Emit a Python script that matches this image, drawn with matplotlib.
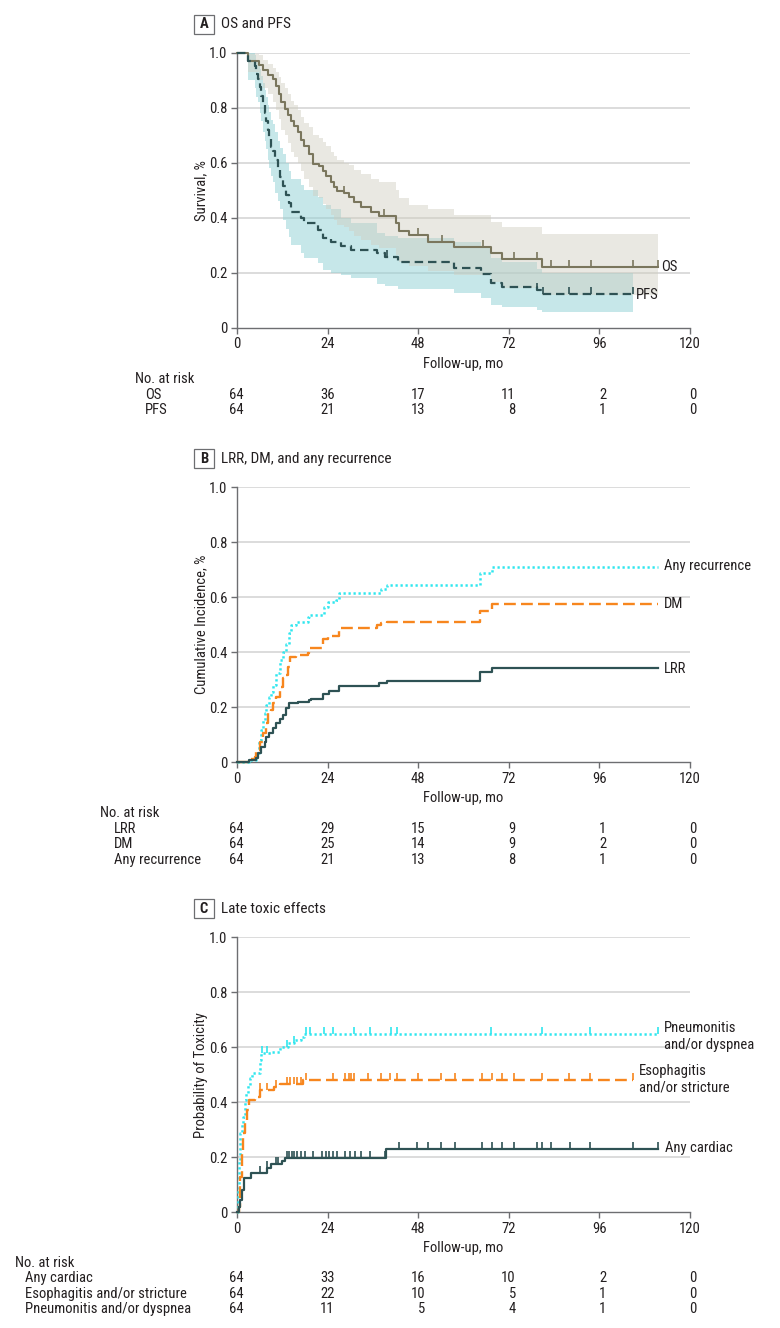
import matplotlib
matplotlib.use("Agg")
import matplotlib.pyplot as plt
import numpy as np
from matplotlib import font_manager
from matplotlib.transforms import blended_transform_factory, ScaledTranslation
from matplotlib.patches import Rectangle

_names = {f.name for f in font_manager.fontManager.ttflist}
_cond = [f for f in font_manager.fontManager.ttflist
         if f.name == 'DejaVu Sans' and str(f.stretch) in ('condensed', '75', 'semi-condensed')]
FONT_STRETCH = 'normal'
FONT = None
for cand in ['Roboto Condensed', 'Liberation Sans Narrow', 'Open Sans Condensed', 'Noto Sans Condensed']:
    if cand in _names:
        FONT = cand
        break
if FONT is None:
    if _cond:
        FONT = 'DejaVu Sans'
        FONT_STRETCH = 'condensed'
    else:
        FONT = 'Roboto'
plt.rcParams['font.family'] = [FONT, 'DejaVu Sans']
plt.rcParams['font.stretch'] = FONT_STRETCH

# ---------------- data ----------------
XTICKS = [0, 24, 48, 72, 96, 120]
YTICKS = [0, 0.2, 0.4, 0.6, 0.8, 1.0]
YTICKLABELS = ['0', '0.2', '0.4', '0.6', '0.8', '1.0']

# Panel A: overall survival
OS_t = [0, 2.9, 5.8, 6.9, 8.2, 9.5, 10.4, 11.1, 11.7, 12.6, 13.5, 14.2, 15.2, 16.1, 17.0, 17.8,
        19.2, 20.0, 21.8, 22.7, 23.6, 24.9, 25.8, 26.6, 28.4, 29.7, 31.0, 32.8, 35.4, 37.5,
        42.2, 42.8, 45.6, 50.6, 57.4, 67.4, 70.1, 80.8]
OS_v = [1.0, 0.971, 0.955, 0.937, 0.92, 0.903, 0.88, 0.85, 0.82, 0.797, 0.773, 0.75, 0.733, 0.713,
        0.683, 0.66, 0.63, 0.597, 0.587, 0.57, 0.55, 0.53, 0.513, 0.498, 0.488, 0.476, 0.458,
        0.44, 0.42, 0.406, 0.381, 0.352, 0.337, 0.313, 0.295, 0.272, 0.248, 0.221]
OS_lo = [1.0, 0.93, 0.90, 0.87, 0.85, 0.82, 0.79, 0.76, 0.72, 0.70, 0.67, 0.64, 0.62, 0.60, 0.57,
         0.54, 0.51, 0.48, 0.47, 0.45, 0.43, 0.41, 0.39, 0.375, 0.365, 0.35, 0.335, 0.32, 0.30,
         0.29, 0.265, 0.24, 0.225, 0.205, 0.19, 0.165, 0.145, 0.12]
OS_hi = [1.0, 0.995, 0.99, 0.975, 0.96, 0.945, 0.93, 0.91, 0.89, 0.87, 0.85, 0.825, 0.81, 0.79,
         0.765, 0.745, 0.73, 0.70, 0.69, 0.675, 0.66, 0.64, 0.625, 0.61, 0.60, 0.59, 0.575,
         0.56, 0.54, 0.53, 0.50, 0.47, 0.446, 0.43, 0.41, 0.386, 0.367, 0.341]
OS_end = 111.6
OS_cens = [28.4, 39.0, 48.0, 54.2, 65.1, 73.3, 79.6, 83.2, 87.9, 93.7, 105.0, 111.6]

# Panel A: progression-free survival
PFS_t = [0, 2.9, 4.7, 5.1, 5.5, 6.0, 6.4, 6.9, 7.3, 7.7, 8.2, 8.6, 9.1, 9.5, 10.1, 10.8, 11.3,
         12.1, 13.0, 13.7, 14.2, 17.0, 17.8, 21.4, 22.9, 24.9, 27.5, 30.2, 37.2, 39.2, 42.7,
         57.4, 64.6, 67.4, 70.1, 79.6, 80.8]
PFS_v = [1.0, 0.969, 0.953, 0.922, 0.906, 0.875, 0.844, 0.813, 0.781, 0.75, 0.719, 0.688, 0.656,
         0.641, 0.609, 0.578, 0.547, 0.516, 0.484, 0.453, 0.422, 0.398, 0.379, 0.355, 0.325,
         0.313, 0.297, 0.281, 0.27, 0.258, 0.24, 0.217, 0.195, 0.163, 0.147, 0.137, 0.124]
PFS_lo = [1.0, 0.90, 0.87, 0.84, 0.82, 0.78, 0.75, 0.71, 0.68, 0.65, 0.61, 0.58, 0.55, 0.53,
          0.49, 0.46, 0.43, 0.39, 0.36, 0.33, 0.30, 0.27, 0.255, 0.235, 0.21, 0.20, 0.19, 0.18,
          0.16, 0.15, 0.139, 0.127, 0.108, 0.084, 0.075, 0.065, 0.057]
PFS_hi = [1.0, 1.0, 0.99, 0.975, 0.965, 0.94, 0.915, 0.89, 0.865, 0.84, 0.81, 0.785, 0.755,
          0.74, 0.71, 0.68, 0.655, 0.63, 0.60, 0.57, 0.54, 0.52, 0.50, 0.475, 0.445, 0.43,
          0.40, 0.38, 0.345, 0.335, 0.325, 0.31, 0.29, 0.255, 0.24, 0.215, 0.20]
PFS_end = 105.0
PFS_cens = [39.7, 79.6, 81.0, 87.9, 93.7, 105.0]

OS_risk = [64, 36, 17, 11, 2, 0]
PFS_risk = [64, 21, 13, 8, 1, 0]

# Panel B: cumulative incidence
LRR_t = [0, 3.3, 5.1, 5.5, 6.4, 7.3, 7.7, 8.6, 9.5, 10.4, 11.3, 12.1, 13.0, 13.7, 16.1, 19.2,
         19.6, 22.7, 24.3, 27.1, 37.6, 39.8, 64.4, 67.5]
LRR_v = [0, 0.008, 0.016, 0.033, 0.057, 0.075, 0.093, 0.105, 0.123, 0.144, 0.156, 0.172, 0.196,
         0.214, 0.218, 0.226, 0.232, 0.25, 0.26, 0.278, 0.287, 0.297, 0.327, 0.344]
DM_t = [0, 3.3, 4.7, 5.1, 6.0, 6.9, 7.7, 8.2, 9.1, 9.5, 10.4, 11.3, 12.1, 13.0, 13.5, 14.1,
        15.6, 18.7, 19.2, 22.9, 24.0, 27.1, 37.2, 38.1, 39.8, 64.4, 67.5]
DM_v = [0, 0.011, 0.02, 0.045, 0.075, 0.105, 0.142, 0.18, 0.19, 0.217, 0.238, 0.275, 0.305,
        0.317, 0.347, 0.384, 0.39, 0.396, 0.414, 0.45, 0.46, 0.487, 0.499, 0.505, 0.511, 0.552,
        0.576]
ANY_t = [0, 3.3, 5.1, 5.8, 6.4, 6.9, 7.3, 7.7, 8.4, 9.1, 9.5, 10.4, 11.3, 12.1, 13.0, 13.7,
         14.2, 15.6, 18.7, 19.2, 23.1, 24.0, 26.2, 27.1, 38.1, 39.8, 64.4, 67.5]
ANY_v = [0, 0.008, 0.033, 0.081, 0.117, 0.154, 0.178, 0.208, 0.238, 0.257, 0.281, 0.323, 0.372,
         0.402, 0.432, 0.469, 0.499, 0.511, 0.529, 0.535, 0.565, 0.584, 0.59, 0.616, 0.632,
         0.644, 0.687, 0.711]
B_end = 111.4
LRR_risk = [64, 29, 15, 9, 1, 0]
DM_risk = [64, 25, 14, 9, 2, 0]
ANY_risk = [64, 21, 13, 8, 1, 0]

# Panel C: late toxic effects
CARD_t = [0, 0.5, 0.9, 1.4, 1.9, 3.8, 8.0, 8.9, 11.8, 12.7, 39.5]
CARD_v = [0, 0.02, 0.045, 0.08, 0.126, 0.142, 0.16, 0.175, 0.187, 0.196, 0.23]
CARD_end = 111.5
CARD_cens = [6.1, 8.0, 10.4, 10.8, 13.2, 13.8, 14.6, 15.2, 16.0, 16.9, 17.9, 20.2, 22.6, 23.5,
             24.5, 25.4, 26.4, 28.5, 29.9, 31.3, 32.9, 35.3, 39.3, 43.0, 47.8, 50.6, 54.1, 57.7,
             64.9, 67.6, 70.1, 73.4, 79.5, 80.9, 83.3, 88.2, 93.5, 104.9, 111.5]
ESO_t = [0, 0.5, 0.9, 1.3, 1.7, 2.1, 2.7, 3.3, 4.7, 6.0, 9.9, 11.3, 17.4]
ESO_v = [0, 0.02, 0.13, 0.227, 0.29, 0.336, 0.372, 0.408, 0.418, 0.445, 0.455, 0.467, 0.482]
ESO_end = 105.0
ESO_cens = [6.1, 8.0, 10.4, 13.2, 14.1, 15.1, 16.0, 16.9, 18.4, 25.4, 28.7, 29.6, 30.1, 31.1,
            34.8, 38.1, 40.5, 42.5, 48.0, 54.1, 57.7, 64.9, 67.6, 70.1, 73.4, 80.9, 88.0,
            93.5, 105.0]
PN_t = [0, 0.3, 0.6, 0.9, 1.3, 1.6, 2.0, 2.5, 3.0, 3.5, 4.0, 6.2, 6.4, 9.1, 11.3, 13.5, 15.2,
        17.0, 17.8]
PN_v = [0, 0.08, 0.19, 0.287, 0.324, 0.348, 0.408, 0.433, 0.463, 0.49, 0.505, 0.554, 0.578,
        0.584, 0.602, 0.615, 0.627, 0.636, 0.648]
PN_end = 111.4
PN_cens = [6.6, 8.0, 13.2, 15.0, 18.3, 19.3, 23.0, 25.4, 31.0, 35.2, 40.9, 42.5, 67.2, 80.8,
           93.5, 111.4]
CARD_risk = [64, 33, 16, 10, 2, 0]
ESO_risk = [64, 22, 10, 5, 1, 0]
PN_risk = [64, 11, 5, 4, 1, 0]

# ---------------- styling ----------------
W, H = 780, 1328
fig = plt.figure(figsize=(W / 100, H / 100), dpi=100)

def fx(x):
    return x / W

def fy(y):
    return 1 - y / H

X0, X1 = 237, 690
TXT = '#231f20'
GRID = '#d6d6d6'
SPINE = '#6d6e71'
C_OS = '#7a765d'
C_PFS = '#2e5254'
C_ORANGE = '#f7861e'
C_CYAN = '#2fe6ee'
FS = 10.5 if FONT_STRETCH == 'condensed' or FONT != 'Roboto' else 9.6


def make_axes(top, bottom, ylabel, letter, title):
    ax = fig.add_axes([fx(X0), fy(bottom), (X1 - X0) / W, (bottom - top) / H])
    ax.set_xlim(0, 120)
    ax.set_ylim(0, 1)
    ax.set_xticks(XTICKS)
    ax.set_yticks(YTICKS)
    ax.set_yticklabels(YTICKLABELS)
    for s in ['top', 'right']:
        ax.spines[s].set_visible(False)
    for s in ['left', 'bottom']:
        ax.spines[s].set_color(SPINE)
        ax.spines[s].set_linewidth(1.0)
    ax.tick_params(direction='out', length=4, width=1, color=SPINE,
                   labelsize=FS, labelcolor=TXT, pad=3)
    for yv in YTICKS[1:]:
        ax.axhline(yv, color=GRID, lw=1.2, zorder=0)
    fig.text(fx(201), fy((top + bottom) / 2), ylabel, rotation=90, ha='center',
             va='center', fontsize=FS, color=TXT)
    fig.text(fx((X0 + X1) / 2), fy(bottom + 36), 'Follow-up, mo', ha='center',
             va='center', fontsize=FS, color=TXT)
    by = top - 28.5
    fig.add_artist(Rectangle((fx(194), fy(by + 9.5)), 20 / W, 19 / H,
                             transform=fig.transFigure, fill=False, ec=SPINE, lw=0.9))
    fig.text(fx(204), fy(by), letter, ha='center', va='center', fontsize=FS,
             fontweight='bold', color=TXT)
    fig.text(fx(221), fy(by), title, ha='left', va='center', fontsize=FS + 0.5, color=TXT)
    return ax


def step(ax, t, v, end, **kw):
    ax.step(list(t) + [end], list(v) + [v[-1]], where='post', clip_on=False, **kw)


def band(ax, t, lo, hi, end, **kw):
    ax.fill_between(list(t) + [end], list(lo) + [lo[-1]], list(hi) + [hi[-1]],
                    step='post', lw=0, **kw)


def cens(ax, t, v, times, color, ms=5):
    t = np.asarray(t)
    idx = np.searchsorted(t, times, side='right') - 1
    yv = np.asarray(v)[idx]
    ax.plot(times, yv, ls='none', marker=2, ms=ms, mew=1.2, color=color, clip_on=False)


def risk_table(ax, ytop, labels, rows, label_x, head_x):
    fig.text(fx(head_x), fy(ytop), 'No. at risk', ha='left', va='center',
             fontsize=FS, color=TXT)
    trans = blended_transform_factory(ax.transData, fig.transFigure) + \
        ScaledTranslation(7 / 100, 0, fig.dpi_scale_trans)
    for i, (lab, vals) in enumerate(zip(labels, rows)):
        yy = ytop + 15.5 * (i + 1)
        fig.text(fx(label_x), fy(yy), lab, ha='left', va='center', fontsize=FS, color=TXT)
        for xt, n in zip(XTICKS, vals):
            ax.text(xt, fy(yy), str(n), transform=trans, ha='right', va='center',
                    fontsize=FS, color=TXT)


def end_label(ax, x, y, s):
    trans = blended_transform_factory(ax.transData, fig.transFigure)
    ax.text(x, fy(y), s, transform=trans, ha='left', va='center', fontsize=FS,
            color=TXT, linespacing=1.25)


# ---- Panel A ----
axA = make_axes(52.7, 327.7, 'Survival, %', 'A', 'OS and PFS')
band(axA, PFS_t, PFS_lo, PFS_hi, PFS_end, color='#8fd1d5', alpha=0.5, zorder=1)
band(axA, OS_t, OS_lo, OS_hi, OS_end, color='#cfcdbf', alpha=0.45, zorder=1.1)
step(axA, OS_t, OS_v, OS_end, color=C_OS, lw=1.5, zorder=3)
step(axA, PFS_t, PFS_v, PFS_end, color=C_PFS, lw=1.6, dashes=(3.8, 2.2), zorder=3)
cens(axA, OS_t, OS_v, OS_cens, C_OS)
cens(axA, PFS_t, PFS_v, PFS_cens, C_PFS)
end_label(axA, 112.4, 267, 'OS')
end_label(axA, 105.6, 295, 'PFS')
risk_table(axA, 379.3, ['OS', 'PFS'], [OS_risk, PFS_risk], 145, 135)

# ---- Panel B ----
axB = make_axes(487.3, 762.3, 'Cumulative Incidence, %', 'B', 'LRR, DM, and any recurrence')
step(axB, ANY_t, ANY_v, B_end, color=C_CYAN, lw=1.8, dashes=(0.9, 1.1), zorder=3)
step(axB, DM_t, DM_v, B_end, color=C_ORANGE, lw=1.7, dashes=(5.0, 2.2), zorder=3)
step(axB, LRR_t, LRR_v, B_end, color=C_PFS, lw=1.6, zorder=3)
end_label(axB, 113.0, 566.5, 'Any recurrence')
end_label(axB, 113.0, 604, 'DM')
end_label(axB, 113.0, 669, 'LRR')
risk_table(axB, 813.3, ['LRR', 'DM', 'Any recurrence'], [LRR_risk, DM_risk, ANY_risk], 114, 100)

# ---- Panel C ----
axC = make_axes(937.3, 1212.3, 'Probability of Toxicity', 'C', 'Late toxic effects')
step(axC, PN_t, PN_v, PN_end, color=C_CYAN, lw=1.8, dashes=(0.9, 1.1), zorder=3)
step(axC, ESO_t, ESO_v, ESO_end, color=C_ORANGE, lw=1.7, dashes=(5.0, 2.2), zorder=3)
step(axC, CARD_t, CARD_v, CARD_end, color=C_PFS, lw=1.6, zorder=3)
cens(axC, PN_t, PN_v, PN_cens, C_CYAN)
cens(axC, ESO_t, ESO_v, ESO_cens, C_ORANGE)
cens(axC, CARD_t, CARD_v, CARD_cens, C_PFS)
end_label(axC, 113.0, 1036.5, 'Pneumonitis\nand/or dyspnea')
end_label(axC, 106.4, 1079, 'Esophagitis\nand/or stricture')
end_label(axC, 113.5, 1148, 'Any cardiac')
risk_table(axC, 1262.7, ['Any cardiac', 'Esophagitis and/or stricture', 'Pneumonitis and/or dyspnea'],
           [CARD_risk, ESO_risk, PN_risk], 25, 15)

fig.savefig('out.png', dpi=100, facecolor='white')
